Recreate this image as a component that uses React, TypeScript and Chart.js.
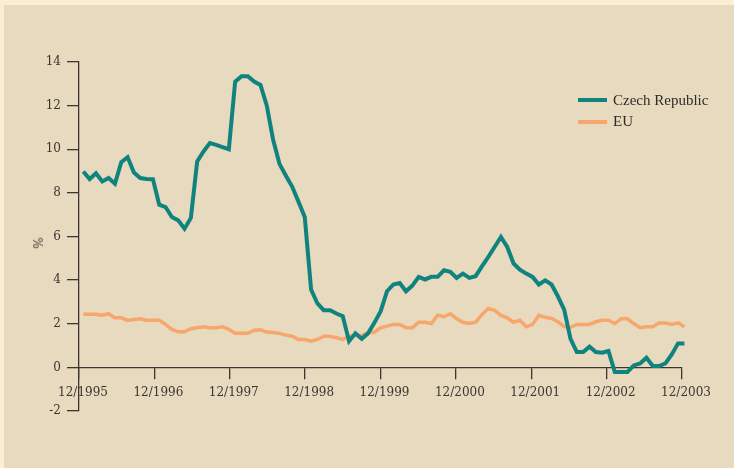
import React, { useEffect, useRef } from "react";
import { Chart, registerables } from "chart.js";

Chart.register(...registerables);

const xTickLabels = [
  "12/1995", "12/1996", "12/1997", "12/1998", "12/1999",
  "12/2000", "12/2001", "12/2002", "12/2003",
];

const seriesNames = ["Czech Republic", "EU"];

// Monthly inflation, % (Jan 1996 .. Dec 2003)
const czech = [
  8.98, 8.63, 8.9, 8.52, 8.68, 8.42, 9.41, 9.64, 8.93, 8.68, 8.64, 8.63,
  7.46, 7.35, 6.89, 6.74, 6.36, 6.85, 9.44, 9.9, 10.28, 10.2, 10.1, 10.0,
  13.1, 13.35, 13.35, 13.1, 12.95, 12.0, 10.43, 9.33, 8.8, 8.29, 7.6, 6.89,
  3.57, 2.93, 2.62, 2.62, 2.47, 2.35, 1.2, 1.56, 1.31, 1.56, 2.04, 2.58,
  3.49, 3.8, 3.87, 3.49, 3.75, 4.15, 4.03, 4.15, 4.15, 4.45, 4.38, 4.1,
  4.3, 4.1, 4.18, 4.63, 5.06, 5.52, 5.98, 5.52, 4.76, 4.48, 4.3, 4.15,
  3.8, 3.99, 3.8, 3.26, 2.65, 1.31, 0.7, 0.7, 0.95, 0.7, 0.67, 0.75,
  -0.21, -0.21, -0.21, 0.09, 0.18, 0.44, 0.06, 0.06, 0.18, 0.59, 1.1, 1.1,
];

const eu = [
  2.44, 2.44, 2.44, 2.39, 2.46, 2.27, 2.27, 2.15, 2.19, 2.23, 2.16, 2.16,
  2.16, 1.97, 1.74, 1.63, 1.63, 1.77, 1.82, 1.86, 1.82, 1.82, 1.86, 1.74,
  1.56, 1.56, 1.56, 1.7, 1.72, 1.62, 1.6, 1.56, 1.48, 1.43, 1.28, 1.28,
  1.2, 1.28, 1.43, 1.43, 1.36, 1.28, 1.43, 1.46, 1.46, 1.59, 1.61, 1.82,
  1.89, 1.97, 1.97, 1.82, 1.82, 2.07, 2.07, 2.01, 2.39, 2.32, 2.46, 2.23,
  2.07, 2.01, 2.07, 2.42, 2.7, 2.61, 2.38, 2.27, 2.07, 2.16, 1.86, 1.97,
  2.39, 2.3, 2.24, 2.09, 1.87, 1.84, 1.97, 1.97, 1.97, 2.09, 2.16, 2.16,
  2.01, 2.23, 2.23, 2.01, 1.82, 1.86, 1.86, 2.04, 2.04, 1.97, 2.04, 1.86,
];

const seriesColors = ["#11837f", "#f7a76e"];
const axisColor = "#3b3632";
const X_MIN = -0.68;
const X_MAX = 94.62;

export default function App() {
  const canvasRef = useRef<HTMLCanvasElement | null>(null);

  useEffect(() => {
    const canvas = canvasRef.current;
    if (!canvas) return;
    const tickFont = { family: "'DejaVu Serif', serif", size: 12 };
    const chart = new Chart(canvas, {
      type: "line",
      data: {
        datasets: [
          {
            label: seriesNames[0],
            data: czech.map((y, i) => ({ x: i, y })),
            borderColor: seriesColors[0],
            borderWidth: 4,
            pointRadius: 0,
            tension: 0,
            clip: false as any,
          },
          {
            label: seriesNames[1],
            data: eu.map((y, i) => ({ x: i, y })),
            borderColor: seriesColors[1],
            borderWidth: 3.5,
            pointRadius: 0,
            tension: 0,
            clip: false as any,
          },
        ],
      },
      options: {
        animation: false,
        responsive: false,
        maintainAspectRatio: false,
        layout: { padding: { top: 62, right: 52, bottom: 57, left: 0 } },
        plugins: { legend: { display: false }, tooltip: { enabled: false } },
        scales: {
          x: {
            type: "linear",
            position: { y: 0 } as any,
            min: X_MIN,
            max: X_MAX,
            bounds: "data",
            afterFit: (scale: any) => {
              scale.height = 0;
            },
            afterBuildTicks: (scale: any) => {
              const n = xTickLabels.length - 1;
              scale.ticks = xTickLabels.map((_, k) => ({
                value: X_MIN + (k * (X_MAX - X_MIN)) / n,
              }));
            },
            grid: {
              drawOnChartArea: false,
              drawTicks: true,
              tickLength: 11,
              color: axisColor,
              lineWidth: 1.3,
            },
            border: { display: true, color: axisColor, width: 1.3 },
            ticks: {
              autoSkip: false,
              maxRotation: 0,
              minRotation: 0,
              padding: 7,
              labelOffset: 4,
              color: axisColor,
              font: tickFont,
              callback: (_v: any, index: number) => xTickLabels[index],
            },
          },
          y: {
            type: "linear",
            min: -2,
            max: 14,
            afterFit: (scale: any) => {
              scale.width = 79;
            },
            grid: {
              drawOnChartArea: false,
              drawTicks: true,
              tickLength: 12,
              color: axisColor,
              lineWidth: 1.3,
            },
            border: { display: true, color: axisColor, width: 1.3 },
            ticks: {
              stepSize: 2,
              padding: 6,
              color: axisColor,
              font: tickFont,
            },
          },
        },
      },
    });
    return () => chart.destroy();
  }, []);

  const legendText: React.CSSProperties = {
    position: "absolute",
    left: 613,
    fontFamily: "'Liberation Serif', serif",
    fontSize: 15,
    lineHeight: "15px",
    color: "#2e2b28",
    whiteSpace: "nowrap",
  };
  const legendLine: React.CSSProperties = {
    position: "absolute",
    left: 578,
    width: 29,
    height: 4,
  };

  return (
    <div
      style={{
        position: "fixed",
        left: 0,
        top: 0,
        width: 734,
        height: 468,
        background: "#fdeed3",
        overflow: "hidden",
      }}
    >
      <div
        style={{
          position: "absolute",
          left: 4,
          top: 5,
          right: 0,
          bottom: 0,
          background: "#e7dabe",
        }}
      />
      <canvas
        ref={canvasRef}
        width={734}
        height={468}
        style={{ position: "absolute", left: 0, top: 0, width: 734, height: 468 }}
      />
      <div
        style={{
          position: "absolute",
          left: 39,
          top: 243,
          transform: "translate(-50%, -50%) rotate(-90deg)",
          fontFamily: "'DejaVu Serif', serif",
          fontSize: 12,
          lineHeight: "12px",
          color: axisColor,
        }}
      >
        %
      </div>
      <div style={{ ...legendLine, top: 98, background: seriesColors[0] }} />
      <div style={{ ...legendText, top: 93 }}>{seriesNames[0]}</div>
      <div style={{ ...legendLine, top: 120, background: seriesColors[1] }} />
      <div style={{ ...legendText, top: 114 }}>{seriesNames[1]}</div>
    </div>
  );
}
